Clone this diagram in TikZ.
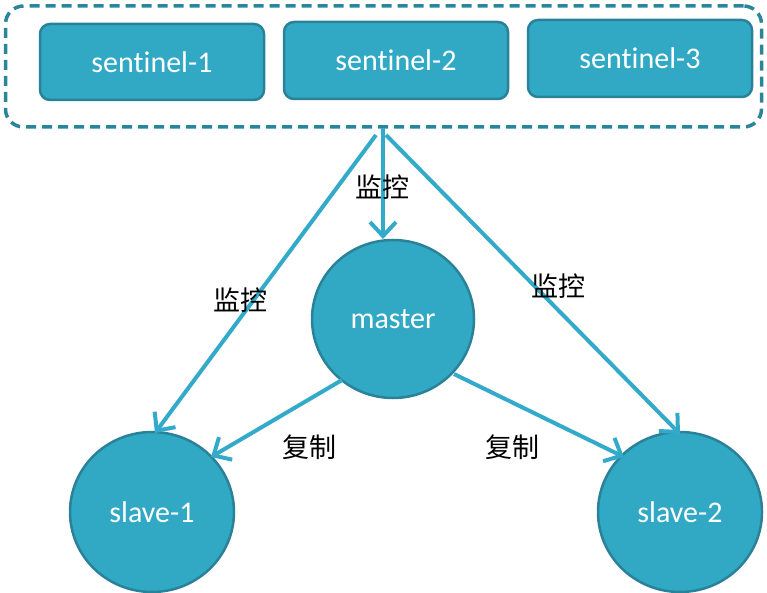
\documentclass[tikz,border=0pt]{standalone}
\usepackage{fontspec}
\setmainfont{Carlito}[Ligatures=NoCommon]
\newfontfamily\cjk{Noto Sans CJK SC}
\usetikzlibrary{arrows.meta,shapes.geometric}
\definecolor{tealfill}{HTML}{31A8C4}
\definecolor{tealedge}{HTML}{2A8299}
\definecolor{tealline}{HTML}{33AACA}
\definecolor{dashcol}{HTML}{2B8599}
\tikzset{
  sentbox/.style={draw=tealedge, line width=2.5pt, fill=tealfill, rounded corners=10pt, text=white, font=\fontsize{30}{33}\selectfont},
  roundnode/.style={draw=tealedge, line width=2.5pt, fill=tealfill, ellipse, text=white, font=\fontsize{30}{33}\selectfont},
  conn/.style={draw=tealline, line width=4pt, -{Straight Barb[length=14pt,width=26pt,line width=4pt]}},
  lbl/.style={text=black, font=\cjk\fontsize{27}{30}\selectfont, inner sep=0pt}
}
\begin{document}
\begin{tikzpicture}[x=1pt,y=-1pt]
\useasboundingbox (0,0) rectangle (767,593);
% dashed group
\node (group) [draw=dashcol, line width=3.5pt, dash pattern=on 10pt off 6pt, rounded corners=18pt, minimum width=756pt, minimum height=121pt, inner sep=0pt] at (383.5,66.5) {};
% sentinels
\node (s1) [sentbox, minimum width=224pt, minimum height=76pt] at (152,62) {sentinel-1};
\node (s2) [sentbox, minimum width=224pt, minimum height=77pt] at (396,60.5) {sentinel-2};
\node (s3) [sentbox, minimum width=224pt, minimum height=77pt] at (640,58.5) {sentinel-3};
% master and slaves
\node (master) [roundnode, minimum width=162pt, minimum height=158pt, inner sep=0pt] at (393,319) {master};
\node (slave1) [roundnode, minimum width=164pt, minimum height=160pt, inner sep=0pt] at (152,512) {slave-1};
\node (slave2) [roundnode, minimum width=164pt, minimum height=160pt, inner sep=0pt] at (680,512) {slave-2};
% anchor points
\coordinate (cm) at (383,128);
\coordinate (cl) at (376,135);
\coordinate (cr) at (386,135);
\coordinate (m1) at (342,380);
\coordinate (m2) at (454,374);
\coordinate (t1) at (155,433);
\coordinate (t2) at (680,434);
\coordinate (tm) at (383,239);
\coordinate (ts1) at (211,457);
\coordinate (ts2) at (624,457);
% connectors
\draw[conn] (cm) -- (tm);
\draw[conn] (cl) -- (t1);
\draw[conn] (cr) -- (t2);
\draw[conn] (m1) -- (ts1);
\draw[conn] (m2) -- (ts2);
% labels
\node (l1) [lbl] at (382,187) {监控};
\node (l2) [lbl] at (240,300) {监控};
\node (l3) [lbl] at (558,286) {监控};
\node (l4) [lbl] at (309,447) {复制};
\node (l5) [lbl] at (512,447) {复制};
\end{tikzpicture}
\end{document}
